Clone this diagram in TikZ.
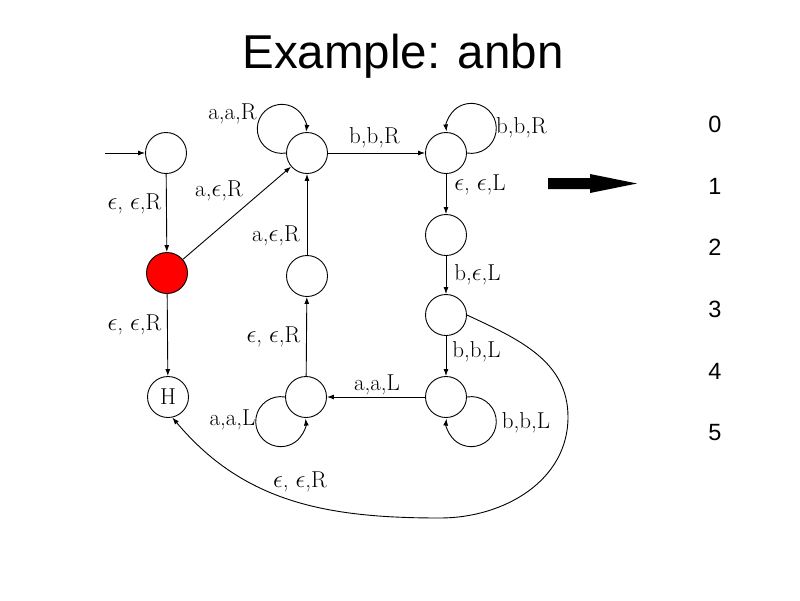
\documentclass[tikz,border=0pt]{standalone}
\usepackage{fontspec}
\newfontfamily\arialf{Liberation Sans}
\usetikzlibrary{arrows.meta}
\begin{document}
\begin{tikzpicture}[x=1pt,y=1pt,
  state/.style={circle,draw,line width=0.9pt,minimum size=41pt,inner sep=0pt,
    font=\fontsize{23}{26}\selectfont},
  lbl/.style={font=\fontsize{23}{26}\selectfont,inner sep=0pt},
  tr/.style={line width=0.9pt,-{Latex[length=7pt,width=5pt]}},
  digit/.style={font=\arialf\fontsize{23.5}{26}\selectfont,inner sep=0pt,anchor=base}]
\useasboundingbox (0,0) rectangle (800,-600);
\fill[white] (0,0) rectangle (800,-600);

% title
\node[anchor=base,inner sep=0pt,font=\arialf\fontsize{47.5}{52}\selectfont] (title) at (403,-68.3) {Example: anbn};

% states
\node[state] (s0) at (166,-153) {};
\node[state,fill=red] (q1) at (167,-273) {};
\node[state] (h) at (168,-397) {H};
\node[state] (a) at (307,-153) {};
\node[state] (b) at (307,-276) {};
\node[state] (c) at (306,-397) {};
\node[state] (d) at (446,-153) {};
\node[state] (e) at (446,-235) {};
\node[state] (f) at (446,-315) {};
\node[state] (g) at (446,-397) {};

% straight transitions
\coordinate (in0) at (105,-153);
\draw[tr] (in0) -- (s0);
\draw[tr] (s0) -- (q1);
\draw[tr] (q1) -- (a);
\draw[tr] (q1) -- (h);
\draw[tr] (a) -- (d);
\draw[tr] (d) -- (e);
\draw[tr] (e) -- (f);
\draw[tr] (f) -- (g);
\draw[tr] (g) -- (c);
\draw[tr] (c) -- (b);
\draw[tr] (b) -- (a);

% loops
\draw[tr] (a.west) arc[start angle=-80, end angle=-367, radius=24.5];
\draw[tr] (d.east) arc[start angle=-100, end angle=187, radius=25];
\draw[tr] (g.east) arc[start angle=100, end angle=-187, radius=25];
\draw[tr] (c.west) arc[start angle=80, end angle=367, radius=25];

% long return
\coordinate (r1) at (568,-417);
\coordinate (r2) at (440,-518);
\draw[tr] (f.east) to[out=-25,in=90] (r1) to[out=-90,in=0] (r2) to[out=180,in=-50] (h.-78);

% labels
\node[lbl] (l1) at (232.5,-114) {a,a,R};
\node[lbl] (l2) at (134.5,-204) {$\epsilon$, $\epsilon$,R};
\node[lbl] (l3) at (219,-191) {a,$\epsilon$,R};
\node[lbl] (l4) at (276,-236) {a,$\epsilon$,R};
\node[lbl] (l5) at (374.5,-138) {b,b,R};
\node[lbl] (l6) at (521.5,-128) {b,b,R};
\node[lbl] (l7) at (480,-185) {$\epsilon$, $\epsilon$,L};
\node[lbl] (l8) at (477.5,-275) {b,$\epsilon$,L};
\node[lbl] (l9) at (476.5,-352) {b,b,L};
\node[lbl] (l10) at (526,-423) {b,b,L};
\node[lbl] (l11) at (377,-385) {a,a,L};
\node[lbl] (l12) at (232.5,-420) {a,a,L};
\node[lbl] (l13) at (273.5,-337) {$\epsilon$, $\epsilon$,R};
\node[lbl] (l14) at (134.5,-325) {$\epsilon$, $\epsilon$,R};
\node[lbl] (l15) at (300,-482) {$\epsilon$, $\epsilon$,R};

% big arrow
\fill (548,-178) -- (590,-178) -- (590,-174) -- (637,-183.5) -- (590,-193) -- (590,-189) -- (548,-189) -- cycle;

% digits
\node[digit] (n0) at (715,-132.3) {0};
\node[digit] (n1) at (715,-194) {1};
\node[digit] (n2) at (715,-255.7) {2};
\node[digit] (n3) at (715,-317.4) {3};
\node[digit] (n4) at (715,-379.1) {4};
\node[digit] (n5) at (715,-440.8) {5};
\end{tikzpicture}
\end{document}
